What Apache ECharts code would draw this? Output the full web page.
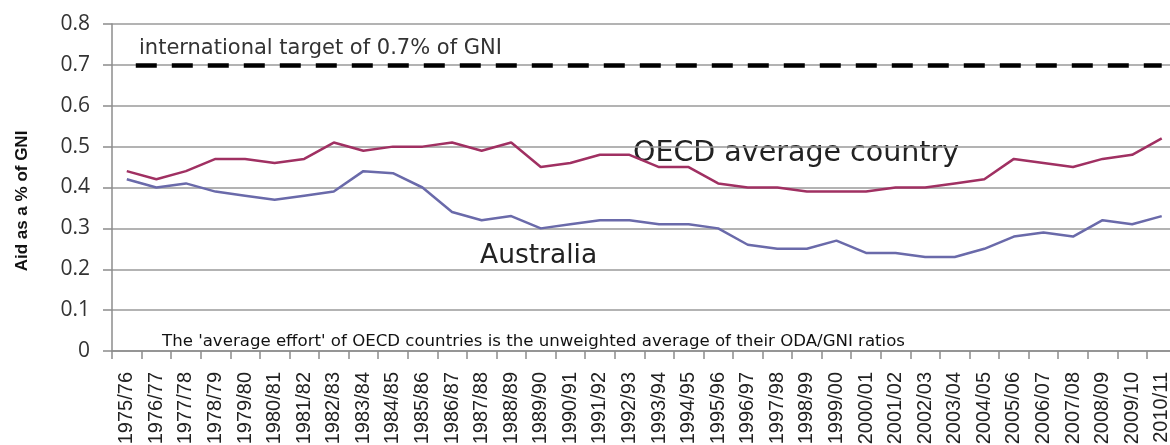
<!DOCTYPE html>
<html>
<head>
<meta charset="utf-8">
<script src="https://cdn.jsdelivr.net/npm/echarts@6/dist/echarts.min.js"></script>
<style>
html,body{margin:0;padding:0;background:#fff;}
#chart{width:1170px;height:445px;}
</style>
</head>
<body>
<div id="chart"></div>
<script>
var categories = ['1975/76','1976/77','1977/78','1978/79','1979/80','1980/81','1981/82','1982/83','1983/84','1984/85','1985/86','1986/87','1987/88','1988/89','1989/90','1990/91','1991/92','1992/93','1993/94','1994/95','1995/96','1996/97','1997/98','1998/99','1999/00','2000/01','2001/02','2002/03','2003/04','2004/05','2005/06','2006/07','2007/08','2008/09','2009/10','2010/11'];
var oecdAverage = [0.44,0.42,0.44,0.47,0.47,0.46,0.47,0.51,0.49,0.50,0.50,0.51,0.49,0.51,0.45,0.46,0.48,0.48,0.45,0.45,0.41,0.40,0.40,0.39,0.39,0.39,0.40,0.40,0.41,0.42,0.47,0.46,0.45,0.47,0.48,0.52];
var australia = [0.42,0.40,0.41,0.39,0.38,0.37,0.38,0.39,0.44,0.435,0.40,0.34,0.32,0.33,0.30,0.31,0.32,0.32,0.31,0.31,0.30,0.26,0.25,0.25,0.27,0.24,0.24,0.23,0.23,0.25,0.28,0.29,0.28,0.32,0.31,0.33];
var targetValue = 0.7;
var yTicks = [0,0.1,0.2,0.3,0.4,0.5,0.6,0.7,0.8];

var chart = echarts.init(document.getElementById('chart'), null, {renderer:'canvas'});
var option = {
  backgroundColor:'#ffffff',
  animation:false,
  grid:{left:112, right:-6.5, top:24, bottom:94, containLabel:false, outerBoundsMode:'none'},
  xAxis:{
    type:'category',
    data:categories,
    boundaryGap:true,
    axisLine:{show:true, lineStyle:{color:'#8c8c8c', width:1.5}},
    axisTick:{show:true, interval:0, length:8, lineStyle:{color:'#8c8c8c', width:1.5}},
    axisLabel:{interval:0, rotate:90, margin:21, fontSize:20, fontFamily:'Liberation Sans, Arial, sans-serif', color:'#222'},
    splitLine:{show:false}
  },
  yAxis:{
    type:'value',
    min:yTicks[0], max:yTicks[yTicks.length-1], interval:0.1,
    name:'Aid as a % of GNI',
    nameLocation:'middle',
    nameGap:81,
    nameTextStyle:{fontFamily:'Liberation Sans Narrow, Arial Narrow, Liberation Sans, sans-serif', fontWeight:'bold', fontSize:17, color:'#111', padding:[0,27,0,0]},
    axisLine:{show:true, lineStyle:{color:'#8c8c8c', width:1.5}},
    axisTick:{show:true, length:9, lineStyle:{color:'#8c8c8c', width:1.5}},
    axisLabel:{margin:22, fontSize:21, fontFamily:'Open Sans, sans-serif', color:'#333',
      formatter:function(v){return v===0?'0':v.toFixed(1);}},
    splitLine:{show:true, lineStyle:{color:'#9a9a9a', width:1.5}}
  },
  series:[
    {
      name:'OECD average country', type:'line', data:oecdAverage,
      showSymbol:false, symbol:'none', silent:true,
      lineStyle:{color:'#a03062', width:2.5}, z:3,
      markLine:{
        silent:true, symbol:['none','none'],
        label:{show:false},
        lineStyle:{color:'#000', width:4.5, type:[21,15], dashOffset:27},
        data:[[{coord:[0,targetValue]},{coord:[categories.length-1,targetValue]}]]
      }
    },
    {
      name:'Australia', type:'line', data:australia,
      showSymbol:false, symbol:'none', silent:true,
      lineStyle:{color:'#6a6aaa', width:2.5}, z:3
    }
  ],
  graphic:[
    {type:'text', x:139, y:48.7, silent:true,
     style:{text:'international target of 0.7% of GNI', fontFamily:'DejaVu Sans, sans-serif', fontSize:21, fill:'#333', align:'left', verticalAlign:'middle'}},
    {type:'text', x:633, y:153.5, silent:true,
     style:{text:'OECD average country', fontFamily:'DejaVu Sans, sans-serif', fontSize:28.5, fill:'#222', align:'left', verticalAlign:'middle'}},
    {type:'text', x:480, y:256, silent:true,
     style:{text:'Australia', fontFamily:'DejaVu Sans, sans-serif', fontSize:26.5, fill:'#222', align:'left', verticalAlign:'middle'}},
    {type:'text', x:162, y:341.5, silent:true,
     style:{text:"The 'average effort' of OECD countries is the unweighted average of their ODA/GNI ratios", fontFamily:'DejaVu Sans, sans-serif', fontSize:16.6, fill:'#111', align:'left', verticalAlign:'middle'}}
  ]
};
chart.setOption(option);
</script>
</body>
</html>
